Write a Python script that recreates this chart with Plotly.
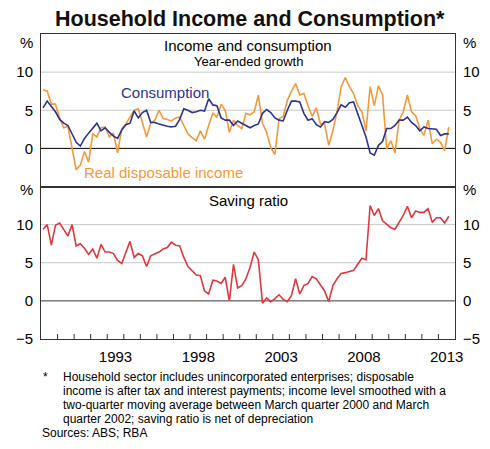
import pandas as pd
import plotly.graph_objects as go

# quarterly data, 1989Q1 to 2013Q3
QUARTERS = pd.period_range("1989Q1", "2013Q3", freq="Q")

# year-ended growth, per cent
CONSUMPTION = [
    5.3, 6.2, 5.5, 4.8, 3.8, 3.3, 3.0, 1.8, 0.8, 0.3,
    1.3, 2.0, 2.7, 3.3, 2.3, 2.7, 2.1, 1.6, 1.3, 2.4,
    3.1, 3.3, 4.9, 4.0, 4.7, 5.0, 3.4, 3.4, 3.2, 3.0,
    2.9, 2.8, 2.9, 3.8, 5.2, 5.0, 4.7, 4.8, 5.0, 4.9,
    6.5, 5.7, 5.6, 4.0, 3.7, 3.7, 3.0, 3.6, 3.3, 2.9,
    2.7, 3.0, 3.2, 4.6, 5.1, 4.7, 4.0, 3.7, 3.6, 5.0,
    6.2, 6.2, 6.1, 4.6, 3.7, 3.9, 3.1, 2.8, 3.5, 3.4,
    3.8, 4.7, 5.7, 5.4, 6.0, 6.1, 4.5, 3.0, 1.5, -0.6,
    -0.9, 0.4, 0.9, 2.6, 2.6, 3.0, 3.7, 3.7, 4.1, 3.4,
    3.0, 2.3, 2.8, 2.6, 2.5, 2.5, 1.7, 1.9, 1.9,
]
INCOME = [
    7.7, 7.5, 5.8, 5.8, 4.0, 2.7, 2.9, 0.0, -2.8, -2.2,
    -0.4, -1.8, 1.9, 1.5, 2.7, 2.8, 1.5, 2.0, -0.6, 2.6,
    3.2, 4.1, 5.0, 5.2, 3.2, 1.5, 3.3, 3.7, 5.0, 3.9,
    3.8, 3.6, 4.0, 4.1, 3.0, 1.9, 1.4, 1.0, 2.3, 1.2,
    3.0, 4.6, 4.1, 5.8, 5.0, 2.1, 3.7, 3.0, 2.6, 4.6,
    4.4, 4.8, 7.0, 3.3, 2.1, 0.1, -0.8, 3.9, 4.2, 6.3,
    7.5, 8.5, 7.0, 7.2, 5.6, 4.2, 5.3, 3.2, 3.2, 0.4,
    2.3, 4.8, 8.1, 9.3, 8.1, 7.2, 5.6, 4.8, 2.3, 8.1,
    5.6, 8.2, 7.0, -0.1, 1.0, -0.6, 3.7, 4.8, 7.0, 4.8,
    4.3, 2.6, 1.7, 3.7, 0.6, 1.2, 0.8, -0.3, 2.8,
]
# per cent of household disposable income
SAVING = [
    9.4, 10.0, 7.3, 9.9, 10.2, 9.4, 8.5, 10.0, 7.2, 7.5,
    6.9, 6.1, 6.8, 5.6, 7.4, 6.4, 6.4, 6.2, 5.3, 4.9,
    6.4, 7.8, 5.7, 6.2, 5.9, 4.5, 5.9, 6.1, 6.4, 6.8,
    7.0, 7.7, 7.3, 7.2, 5.7, 4.5, 3.9, 3.4, 3.3, 1.3,
    0.9, 2.7, 2.6, 2.3, 3.1, 0.0, 4.8, 1.7, 2.0, 2.9,
    4.4, 6.4, 5.4, -0.3, 0.4, -0.1, 0.3, 0.8, 0.2, -0.1,
    0.7, 2.9, 0.9, 2.0, 2.3, 3.2, 2.9, 2.1, 1.3, -0.1,
    2.0, 2.9, 3.6, 3.7, 3.9, 4.0, 4.8, 5.6, 5.4, 12.5,
    11.2, 12.1, 10.5, 10.0, 9.6, 9.4, 10.3, 11.2, 12.4, 10.9,
    11.8, 11.6, 11.6, 12.1, 10.3, 10.9, 10.9, 10.2, 11.1,
]

YEAR_LABELS = [1993, 1998, 2003, 2008, 2013]
YEAR_TICKS = list(range(1990, 2014))
TOP_TICKS = [0, 5, 10]
BOTTOM_TICKS = [-5, 0, 5, 10]
X_RANGE = [1989, 2014]
Y_RANGE = [-5, 15]

NOTES = [
    "Household sector includes unincorporated enterprises; disposable",
    "income is after tax and interest payments; income level smoothed with a",
    "two-quarter moving average between March quarter 2000 and March",
    "quarter 2002; saving ratio is net of depreciation",
]
SOURCES = "Sources: ABS; RBA"

FONT = "Arial, Liberation Sans, sans-serif"
BLUE = "#2b3590"
ORANGE = "#f4993a"
RED = "#e0383e"
FRAME = "#333333"
GRID = "#c8c8c8"
CLEAR = "rgba(0,0,0,0)"

# plot quarters at their mid-point in decimal years
x = [q.year + (q.quarter - 0.5) / 4 for q in QUARTERS]


def hlines(levels):
    # one broken path across the full x range for each level
    xs, ys = [], []
    for v in levels:
        xs += [X_RANGE[0], X_RANGE[1], None]
        ys += [v, v, None]
    return xs, ys


def ref_line(xs, ys, color, xa, ya):
    return go.Scatter(x=xs, y=ys, mode="lines", line=dict(color=color, width=1),
                      hoverinfo="skip", showlegend=False, xaxis=xa, yaxis=ya)


fig = go.Figure()
# grid and zero lines under the data
for xa, ya, vals, zero_color in (("x", "y", TOP_TICKS, "black"),
                                 ("x2", "y2", BOTTOM_TICKS, "#3a3a3a")):
    gx, gy = hlines([v for v in vals if v > 0])
    fig.add_trace(ref_line(gx, gy, GRID, xa, ya))
    zx, zy = hlines([0])
    fig.add_trace(ref_line(zx, zy, zero_color, xa, ya))

fig.add_trace(go.Scatter(x=x, y=INCOME, mode="lines", name="Real disposable income",
                         line=dict(color=ORANGE, width=1.6), xaxis="x", yaxis="y"))
fig.add_trace(go.Scatter(x=x, y=CONSUMPTION, mode="lines", name="Consumption",
                         line=dict(color=BLUE, width=1.6), xaxis="x", yaxis="y"))
fig.add_trace(go.Scatter(x=x, y=SAVING, mode="lines", name="Saving ratio",
                         line=dict(color=RED, width=1.6), xaxis="x2", yaxis="y2"))

# year tick marks standing inside the bottom frame (about 5px tall)
tx, ty = [], []
for yr in YEAR_TICKS:
    tx += [yr, yr, None]
    ty += [Y_RANGE[0], Y_RANGE[0] + 0.65, None]
fig.add_trace(ref_line(tx, ty, FRAME, "x2", "y2"))

# carriers for the overlaid label axes (no visible ink)
for xa, ya, ys in (("x", "y3", CONSUMPTION), ("x2", "y4", SAVING), ("x3", "y2", SAVING)):
    fig.add_trace(go.Scatter(x=x, y=ys, mode="lines", line=dict(color=CLEAR, width=0),
                             hoverinfo="skip", showlegend=False, xaxis=xa, yaxis=ya))

tick_font = dict(family=FONT, size=15, color="black")
# transparent outside ticks give the label gap
axis_y = dict(range=Y_RANGE, showline=True, linecolor=FRAME, linewidth=1,
              showgrid=False, zeroline=False,
              ticks="outside", ticklen=4, tickcolor=CLEAR,
              tickfont=tick_font, fixedrange=True)

fig.update_layout(
    template="none",
    width=490, height=449,
    # page body adds an 8px offset; margins are set so the plot lands where it should
    margin=dict(l=33, r=43, t=26, b=118),
    paper_bgcolor="white", plot_bgcolor="white",
    showlegend=False,
    font=dict(family=FONT, color="black"),
    title=dict(text="<b>Household Income and Consumption*</b>",
               font=dict(family=FONT, size=21.5, color="#111111"),
               x=0.4933, xanchor="center", y=0.977, yanchor="middle"),
    xaxis=dict(domain=[0, 1], anchor="y", range=X_RANGE, showline=True, mirror=True,
               linecolor=FRAME, showticklabels=False, ticks="", showgrid=False,
               zeroline=False, fixedrange=True),
    xaxis2=dict(domain=[0, 1], anchor="y2", range=X_RANGE, showline=True,
                mirror=True, linecolor=FRAME, showgrid=False, zeroline=False,
                showticklabels=False, ticks="", fixedrange=True),
    # year labels, centred in each year
    xaxis3=dict(overlaying="x2", anchor="y2", side="bottom", range=X_RANGE,
                showline=False, showgrid=False, zeroline=False,
                tickvals=[y + 0.5 for y in YEAR_LABELS], ticktext=[str(y) for y in YEAR_LABELS],
                ticks="outside", ticklen=4, tickcolor=CLEAR, tickfont=tick_font,
                fixedrange=True),
    yaxis=dict(axis_y, domain=[0.5, 1], anchor="x", tickvals=TOP_TICKS),
    yaxis2=dict(axis_y, domain=[0, 0.5], anchor="x2", tickvals=BOTTOM_TICKS),
    yaxis3=dict(axis_y, overlaying="y", anchor="x", side="right", tickvals=TOP_TICKS),
    yaxis4=dict(axis_y, overlaying="y2", anchor="x2", side="right", tickvals=BOTTOM_TICKS),
)

ann = []
# panel headings and series labels
ann.append(dict(text="Income and consumption", xref="paper", yref="y", x=0.5, y=13.43,
                font=dict(size=15)))
ann.append(dict(text="Year-ended growth", xref="paper", yref="y", x=0.5, y=11.33,
                font=dict(size=13)))
ann.append(dict(text="Consumption", xref="x", yref="y", x=1993.7, y=7.39, xanchor="left",
                font=dict(size=15, color=BLUE)))
ann.append(dict(text="Real disposable income", xref="x", yref="y", x=1991.45, y=-3.1,
                xanchor="left", font=dict(size=15, color=ORANGE)))
ann.append(dict(text="Saving ratio", xref="paper", yref="y2", x=0.5, y=13.23,
                font=dict(size=15)))
# unit labels on both sides of each panel
for yref, yv in (("y", 13.86), ("y2", 14.67)):
    ann.append(dict(text="%", xref="paper", yref=yref, x=0, y=yv, xanchor="right", xshift=-6,
                    font=dict(size=15)))
    ann.append(dict(text="%", xref="paper", yref=yref, x=1, y=yv, xanchor="left", xshift=6,
                    font=dict(size=15)))
# footnotes
ann.append(dict(text="*", xref="paper", yref="paper", x=0, y=0, xanchor="left",
                yanchor="middle", yshift=-38, font=dict(size=12)))
for k, line in enumerate(NOTES):
    ann.append(dict(text=line, xref="paper", yref="paper", x=0, y=0, xanchor="left",
                    yanchor="middle", xshift=20, yshift=-38 - 13.9 * k, font=dict(size=12)))
ann.append(dict(text=SOURCES, xref="paper", yref="paper", x=0, y=0, xanchor="left",
                yanchor="middle", xshift=-1, yshift=-38 - 13.9 * 4, font=dict(size=12)))

for a in ann:
    a.setdefault("showarrow", False)
    a.setdefault("xanchor", "center")
    a.setdefault("yanchor", "middle")
    a["font"] = dict(family=FONT, color="black", **a["font"]) if "color" not in a["font"] \
        else dict(family=FONT, **a["font"])
fig.update_layout(annotations=ann)

fig.write_html("out.html")
